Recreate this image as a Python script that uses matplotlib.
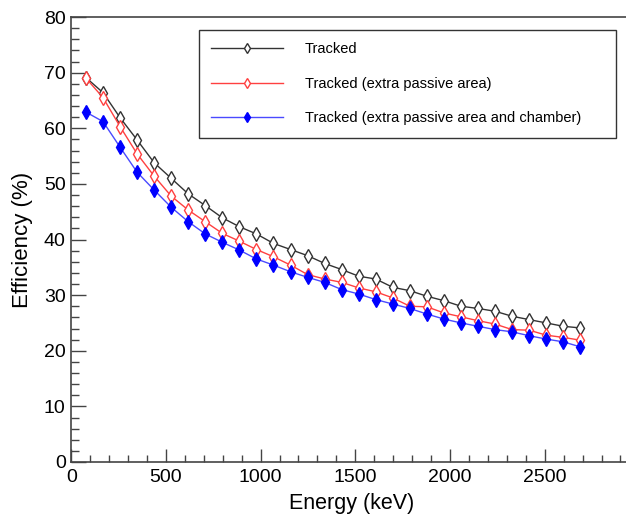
import numpy as np
import matplotlib
matplotlib.use("Agg")
import matplotlib.pyplot as plt
from matplotlib.ticker import MultipleLocator

plt.rcParams["font.family"] = ["Liberation Sans", "DejaVu Sans"]

# energies (keV): 30 points, 90 keV apart
energy = [78 + 90 * i for i in range(30)]

tracked = [69.1, 66.4, 61.9, 57.9, 53.8, 51.0, 48.2, 46.1, 43.9, 42.3,
           41.0, 39.3, 38.2, 37.1, 35.7, 34.6, 33.4, 32.9, 31.4, 30.8,
           29.8, 29.0, 28.0, 27.6, 27.1, 26.2, 25.6, 25.0, 24.4, 24.1]
tracked_passive = [69.0, 65.5, 60.3, 55.4, 51.4, 47.8, 45.3, 43.2, 41.1, 39.7,
                   38.2, 36.9, 35.4, 33.7, 32.9, 32.3, 31.3, 30.6, 29.5, 28.0,
                   27.9, 26.8, 26.1, 25.4, 24.8, 23.8, 23.7, 22.8, 22.4, 21.9]
tracked_chamber = [62.9, 61.2, 56.6, 52.1, 48.9, 45.8, 43.2, 41.0, 39.5, 38.1,
                   36.5, 35.4, 34.2, 33.2, 32.3, 31.0, 30.2, 29.2, 28.4, 27.6,
                   26.6, 25.7, 25.0, 24.4, 23.8, 23.4, 22.7, 22.1, 21.6, 20.7]

labels = ["Tracked",
          "Tracked (extra passive area)",
          "Tracked (extra passive area and chamber)"]

W, H = 626, 519
fig = plt.figure(figsize=(W / 100, H / 100), dpi=100)

# axes in pixel terms: x=0 at 71px, y=0 at 462px, y=80 at 17px
x0, y0, y1 = 71.2, 462.0, 17.0
xmax = 2960
px_per_kev = 1 / 5.28
ax = fig.add_axes([x0 / W, (H - y0) / H, xmax * px_per_kev / W, (y0 - y1) / H])

ax.plot(energy, tracked, color="#333333", lw=1.0, marker="d", ms=7.5,
        mfc="white", mec="#333333", mew=1.0, label=labels[0])
ax.plot(energy, tracked_passive, color="#ff4040", lw=1.0, marker="d", ms=7.5,
        mfc="white", mec="#ff4040", mew=1.0, label=labels[1])
ax.plot(energy, tracked_chamber, color="#4a4aff", lw=1.0, marker="d", ms=7.5,
        mfc="#0000ff", mec="#0000ff", mew=1.0, label=labels[2])

ax.set_xlim(0, xmax)
ax.set_ylim(0, 80)
ax.xaxis.set_major_locator(MultipleLocator(500))
ax.xaxis.set_minor_locator(MultipleLocator(100))
ax.yaxis.set_major_locator(MultipleLocator(10))
ax.yaxis.set_minor_locator(MultipleLocator(2))

ax.tick_params(axis="both", which="both", direction="in", top=False,
               right=False, labelsize=14, color="#444444")
ax.tick_params(axis="x", which="major", length=9.4, width=1.0, pad=5)
ax.tick_params(axis="x", which="minor", length=4.7, width=1.0)
ax.tick_params(axis="y", which="major", length=10.8, width=1.0, pad=4)
ax.tick_params(axis="y", which="minor", length=5.8, width=1.0)
for s in ax.spines.values():
    s.set_color("#444444")
    s.set_linewidth(1.2)

ax.set_xlabel("Energy (keV)", fontsize=15.5, labelpad=5)
ax.set_ylabel("Efficiency (%)", fontsize=16, labelpad=8)

# legend box: x 199-616 px, y 30-136 px
leg = ax.legend(loc="upper left",
                bbox_to_anchor=(199 / W, 1 - 136 / H, (616 - 199) / W, (136 - 30) / H),
                bbox_transform=fig.transFigure, mode="expand",
                fontsize=10.5, markerscale=0.7, handlelength=4.9,
                handletextpad=1.5, labelspacing=1.4, borderpad=0.85,
                borderaxespad=0, fancybox=False, framealpha=1)
leg.get_frame().set_edgecolor("#333333")
leg.get_frame().set_linewidth(1.0)

fig.savefig("out.png", dpi=100)
